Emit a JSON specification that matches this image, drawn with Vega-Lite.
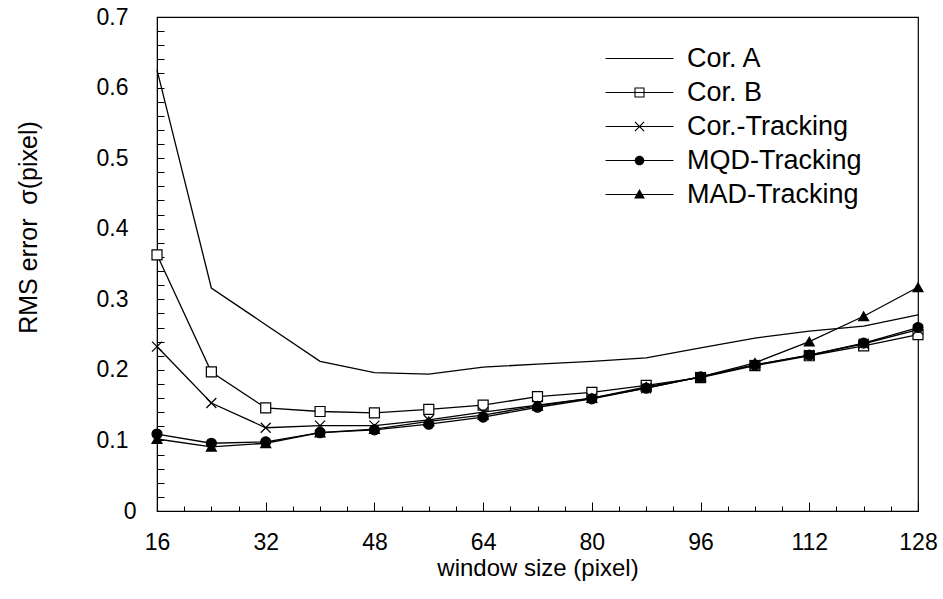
{
  "$schema": "https://vega.github.io/schema/vega-lite/v6.json",
  "width": 761,
  "height": 494,
  "autosize": {"type": "none"},
  "padding": {"left": 157, "top": 17, "right": 25, "bottom": 88},
  "background": "white",
  "config": {
    "view": {"stroke": "black", "strokeWidth": 1.2},
    "font": "Liberation Sans"
  },
  "data": {
    "values": [
      {"w": 16, "s": "Cor. A", "v": 0.625}, {"w": 24, "s": "Cor. A", "v": 0.316}, {"w": 32, "s": "Cor. A", "v": 0.264}, {"w": 40, "s": "Cor. A", "v": 0.212}, {"w": 48, "s": "Cor. A", "v": 0.196}, {"w": 56, "s": "Cor. A", "v": 0.194}, {"w": 64, "s": "Cor. A", "v": 0.204}, {"w": 72, "s": "Cor. A", "v": 0.208}, {"w": 80, "s": "Cor. A", "v": 0.212}, {"w": 88, "s": "Cor. A", "v": 0.217}, {"w": 96, "s": "Cor. A", "v": 0.231}, {"w": 104, "s": "Cor. A", "v": 0.245}, {"w": 112, "s": "Cor. A", "v": 0.255}, {"w": 120, "s": "Cor. A", "v": 0.262}, {"w": 128, "s": "Cor. A", "v": 0.278},
      {"w": 16, "s": "Cor. B", "v": 0.363}, {"w": 24, "s": "Cor. B", "v": 0.197}, {"w": 32, "s": "Cor. B", "v": 0.146}, {"w": 40, "s": "Cor. B", "v": 0.141}, {"w": 48, "s": "Cor. B", "v": 0.139}, {"w": 56, "s": "Cor. B", "v": 0.144}, {"w": 64, "s": "Cor. B", "v": 0.150}, {"w": 72, "s": "Cor. B", "v": 0.162}, {"w": 80, "s": "Cor. B", "v": 0.168}, {"w": 88, "s": "Cor. B", "v": 0.178}, {"w": 96, "s": "Cor. B", "v": 0.189}, {"w": 104, "s": "Cor. B", "v": 0.206}, {"w": 112, "s": "Cor. B", "v": 0.220}, {"w": 120, "s": "Cor. B", "v": 0.234}, {"w": 128, "s": "Cor. B", "v": 0.250},
      {"w": 16, "s": "Cor.-Tracking", "v": 0.233}, {"w": 24, "s": "Cor.-Tracking", "v": 0.153}, {"w": 32, "s": "Cor.-Tracking", "v": 0.118}, {"w": 40, "s": "Cor.-Tracking", "v": 0.121}, {"w": 48, "s": "Cor.-Tracking", "v": 0.121}, {"w": 56, "s": "Cor.-Tracking", "v": 0.129}, {"w": 64, "s": "Cor.-Tracking", "v": 0.140}, {"w": 72, "s": "Cor.-Tracking", "v": 0.150}, {"w": 80, "s": "Cor.-Tracking", "v": 0.160}, {"w": 88, "s": "Cor.-Tracking", "v": 0.174}, {"w": 96, "s": "Cor.-Tracking", "v": 0.190}, {"w": 104, "s": "Cor.-Tracking", "v": 0.207}, {"w": 112, "s": "Cor.-Tracking", "v": 0.221}, {"w": 120, "s": "Cor.-Tracking", "v": 0.237}, {"w": 128, "s": "Cor.-Tracking", "v": 0.257},
      {"w": 16, "s": "MQD-Tracking", "v": 0.109}, {"w": 24, "s": "MQD-Tracking", "v": 0.096}, {"w": 32, "s": "MQD-Tracking", "v": 0.098}, {"w": 40, "s": "MQD-Tracking", "v": 0.111}, {"w": 48, "s": "MQD-Tracking", "v": 0.115}, {"w": 56, "s": "MQD-Tracking", "v": 0.123}, {"w": 64, "s": "MQD-Tracking", "v": 0.133}, {"w": 72, "s": "MQD-Tracking", "v": 0.147}, {"w": 80, "s": "MQD-Tracking", "v": 0.159}, {"w": 88, "s": "MQD-Tracking", "v": 0.174}, {"w": 96, "s": "MQD-Tracking", "v": 0.190}, {"w": 104, "s": "MQD-Tracking", "v": 0.207}, {"w": 112, "s": "MQD-Tracking", "v": 0.221}, {"w": 120, "s": "MQD-Tracking", "v": 0.238}, {"w": 128, "s": "MQD-Tracking", "v": 0.260},
      {"w": 16, "s": "MAD-Tracking", "v": 0.102}, {"w": 24, "s": "MAD-Tracking", "v": 0.091}, {"w": 32, "s": "MAD-Tracking", "v": 0.096}, {"w": 40, "s": "MAD-Tracking", "v": 0.111}, {"w": 48, "s": "MAD-Tracking", "v": 0.116}, {"w": 56, "s": "MAD-Tracking", "v": 0.127}, {"w": 64, "s": "MAD-Tracking", "v": 0.136}, {"w": 72, "s": "MAD-Tracking", "v": 0.149}, {"w": 80, "s": "MAD-Tracking", "v": 0.160}, {"w": 88, "s": "MAD-Tracking", "v": 0.176}, {"w": 96, "s": "MAD-Tracking", "v": 0.190}, {"w": 104, "s": "MAD-Tracking", "v": 0.210}, {"w": 112, "s": "MAD-Tracking", "v": 0.240}, {"w": 120, "s": "MAD-Tracking", "v": 0.276}, {"w": 128, "s": "MAD-Tracking", "v": 0.317}
    ]
  },
  "encoding": {
    "x": {
      "field": "w", "type": "quantitative",
      "scale": {"domain": [16, 128], "nice": false, "zero": false},
      "axis": {
        "title": "window size (pixel)",
        "titleFontSize": 24, "titleFontWeight": "normal", "titleColor": "black",
        "titleY": 64, "titleBaseline": "alphabetic",
        "values": [16,20,24,28,32,36,40,44,48,52,56,60,64,68,72,76,80,84,88,92,96,100,104,108,112,116,120,124,128],
        "labelExpr": "datum.value % 16 == 0 ? datum.label : ''",
        "labelFontSize": 23, "labelColor": "black", "labelBaseline": "alphabetic", "labelPadding": 47,
        "labelFlush": false, "labelOverlap": false,
        "tickSize": {"condition": {"test": "datum.value % 16 == 0", "value": -9}, "value": -5},
        "tickColor": "black", "domainColor": "black", "grid": false
      }
    },
    "y": {
      "field": "v", "type": "quantitative",
      "scale": {"domain": [0, 0.7], "nice": false},
      "axis": {
        "title": "RMS error\u00a0\u00a0σ(pixel)",
        "titleFontSize": 25, "titleFontWeight": "normal", "titleColor": "black",
        "titleX": -129, "titleY": 210, "titleAlign": "center", "titleBaseline": "middle",
        "values": [0,0.02,0.04,0.06,0.08,0.1,0.12,0.14,0.16,0.18,0.2,0.22,0.24,0.26,0.28,0.3,0.32,0.34,0.36,0.38,0.4,0.42,0.44,0.46,0.48,0.5,0.52,0.54,0.56,0.58,0.6,0.62,0.64,0.66,0.68,0.7],
        "labelExpr": "abs(round(datum.value*10) - datum.value*10) < 0.001 ? format(datum.value, '.1~f') : ''",
        "labelFontSize": 23, "labelColor": "black",
        "labelPadding": {"condition": {"test": "datum.value == 0", "value": 28}, "value": 36},
        "labelOverlap": false, "labelFlush": false,
        "tickSize": -7, "tickColor": "black", "domainColor": "black", "grid": false
      }
    }
  },
  "resolve": {"scale": {"shape": "independent", "fill": "independent"}},
  "layer": [
    {
      "mark": {"type": "line", "color": "black", "strokeWidth": 1.3},
      "encoding": {"detail": {"field": "s"}}
    },
    {
      "transform": [{"filter": "datum.s !== 'Cor. A'"}],
      "mark": {"type": "point", "stroke": "black", "strokeWidth": 1.2, "opacity": 1, "size": 100},
      "encoding": {
        "shape": {
          "field": "s", "type": "nominal", "legend": null,
          "scale": {
            "domain": ["Cor. A", "Cor. B", "Cor.-Tracking", "MQD-Tracking", "MAD-Tracking"],
            "range": ["M0,0", "square", "M-1,-1L1,1M1,-1L-1,1", "circle", "triangle-up"]
          }
        },
        "fill": {
          "field": "s", "type": "nominal", "legend": null,
          "scale": {
            "domain": ["Cor. A", "Cor. B", "Cor.-Tracking", "MQD-Tracking", "MAD-Tracking"],
            "range": ["black", "white", "transparent", "black", "black"]
          }
        }
      }
    },
    {
      "transform": [{"filter": "false"}],
      "mark": {"type": "point", "filled": true, "color": "black", "strokeWidth": 0, "size": 576, "opacity": 1},
      "encoding": {
        "shape": {
          "field": "s", "type": "nominal",
          "scale": {
            "domain": ["Cor. A", "Cor. B", "Cor.-Tracking", "MQD-Tracking", "MAD-Tracking"],
            "range": [
              "M-2.83,-0.05H2.83V0.05H-2.83Z",
              "M-2.83,-0.05H2.83V0.05H-2.83ZM-0.42,-0.42H0.42V0.42H-0.42ZM-0.33,-0.33V0.33H0.33V-0.33Z",
              "M-2.83,-0.05H2.83V0.05H-2.83ZM-0.345,-0.415L0.415,0.345L0.345,0.415L-0.415,-0.345ZM-0.415,0.345L0.345,-0.415L0.415,-0.345L-0.345,0.415Z",
              "M-2.83,-0.05H2.83V0.05H-2.83ZM-0.4,0A0.4 0.4 0 1 1 0.4,0A0.4 0.4 0 1 1 -0.4,0Z",
              "M-2.83,-0.05H2.83V0.05H-2.83ZM0,-0.45L0.45,0.33H-0.45Z"
            ]
          },
          "legend": {
            "title": null,
            "orient": "none",
            "legendX": 469,
            "legendY": 28,
            "padding": 0,
            "symbolSize": 576,
            "symbolFillColor": "black",
            "symbolStrokeWidth": 0,
            "symbolOpacity": 1,
            "labelOffset": 34,
            "labelFontSize": 27,
            "labelColor": "black",
            "rowPadding": 6,
            "labelLimit": 400
          }
        }
      }
    }
  ]
}
